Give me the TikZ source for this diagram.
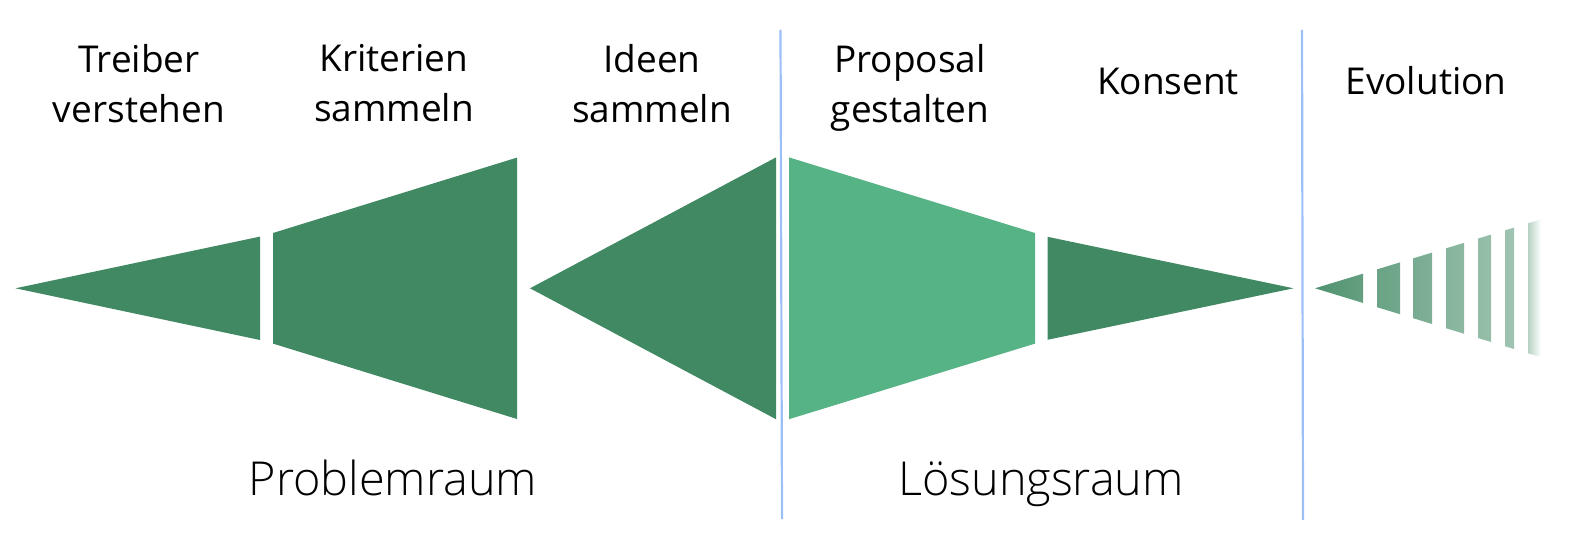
\documentclass[tikz,border=0pt]{standalone}
\usepackage{fontspec}
\setmainfont{Open Sans}
\newfontfamily\lightfont{Open Sans Light}
\usepackage{xcolor}
\usetikzlibrary{positioning}
\definecolor{darkgreen}{HTML}{408963}
\definecolor{lightgreen}{HTML}{56B385}
\definecolor{divider}{HTML}{9DBFF7}

\begin{document}
\begin{tikzpicture}[x=0.5pt,y=-0.5pt,
  steplabel/.style={align=center,inner sep=0pt,font=\fontsize{18.5}{25}\selectfont},
  spacelabel/.style={anchor=base,inner sep=0pt,font=\lightfont\fontsize{23.4}{28}\selectfont}]
  \useasboundingbox (0,0) rectangle (1594,544);
  % Problemraum
  \fill[darkgreen] (15.5,288.3) -- (260,236.6) -- (260,340) -- cycle;
  \fill[darkgreen] (273,233) -- (517,157.6) -- (517,419) -- (273,343.6) -- cycle;
  \fill[darkgreen] (530,288.3) -- (776,157.4) -- (776,419.2) -- cycle;
  % Loesungsraum
  \fill[lightgreen] (789,157.4) -- (1035,233) -- (1035,343.6) -- (789,419.2) -- cycle;
  \fill[darkgreen] (1047.5,236.8) -- (1293.5,288.3) -- (1047.5,339.8) -- cycle;
  % Evolution
  \foreach \xa/\xb in {1315/1363,1377/1400,1413/1432,1446/1464,1478/1491,1505/1514}{
    \pgfmathtruncatemacro\pa{92-0.21*(\xa-1315)}
    \pgfmathtruncatemacro\pb{92-0.21*(\xb-1315)}
    \shade[left color=darkgreen!\pa!white,right color=darkgreen!\pb!white]
      (\xa,{288.3-0.305*(\xa-1315)}) -- (\xb,{288.3-0.305*(\xb-1315)})
      -- (\xb,{288.3+0.305*(\xb-1315)}) -- (\xa,{288.3+0.305*(\xa-1315)}) -- cycle;
  }
  \shade[left color=darkgreen!38!white,right color=white]
    (1528,223.3) -- (1541,219.4) -- (1541,357.2) -- (1528,353.3) -- cycle;
  % Dividers
  \draw[divider,line width=1.1pt] (780.5,30) -- (782,519);
  \draw[divider,line width=1.1pt] (1302,30) -- (1303,520);
  % Step labels
  \node[steplabel] (treiber) at (139,83.6) {Treiber\\verstehen};
  \node[steplabel] (kriterien) at (394,83.6) {Kriterien\\sammeln};
  \node[steplabel] (ideen) at (652,83.6) {Ideen\\sammeln};
  \node[steplabel] (proposal) at (910,88.1) {Proposal\\gestalten};
  \node[steplabel,anchor=base] (konsent) at (1168,94.3) {Konsent};
  \node[steplabel,anchor=base] (evolution) at (1426,94.3) {Evolution};
  % Space labels
  \node[spacelabel] (problem) at (393,495) {Problemraum};
  \node[spacelabel] (loesung) at (1041,495) {Lösungsraum};
\end{tikzpicture}
\end{document}
